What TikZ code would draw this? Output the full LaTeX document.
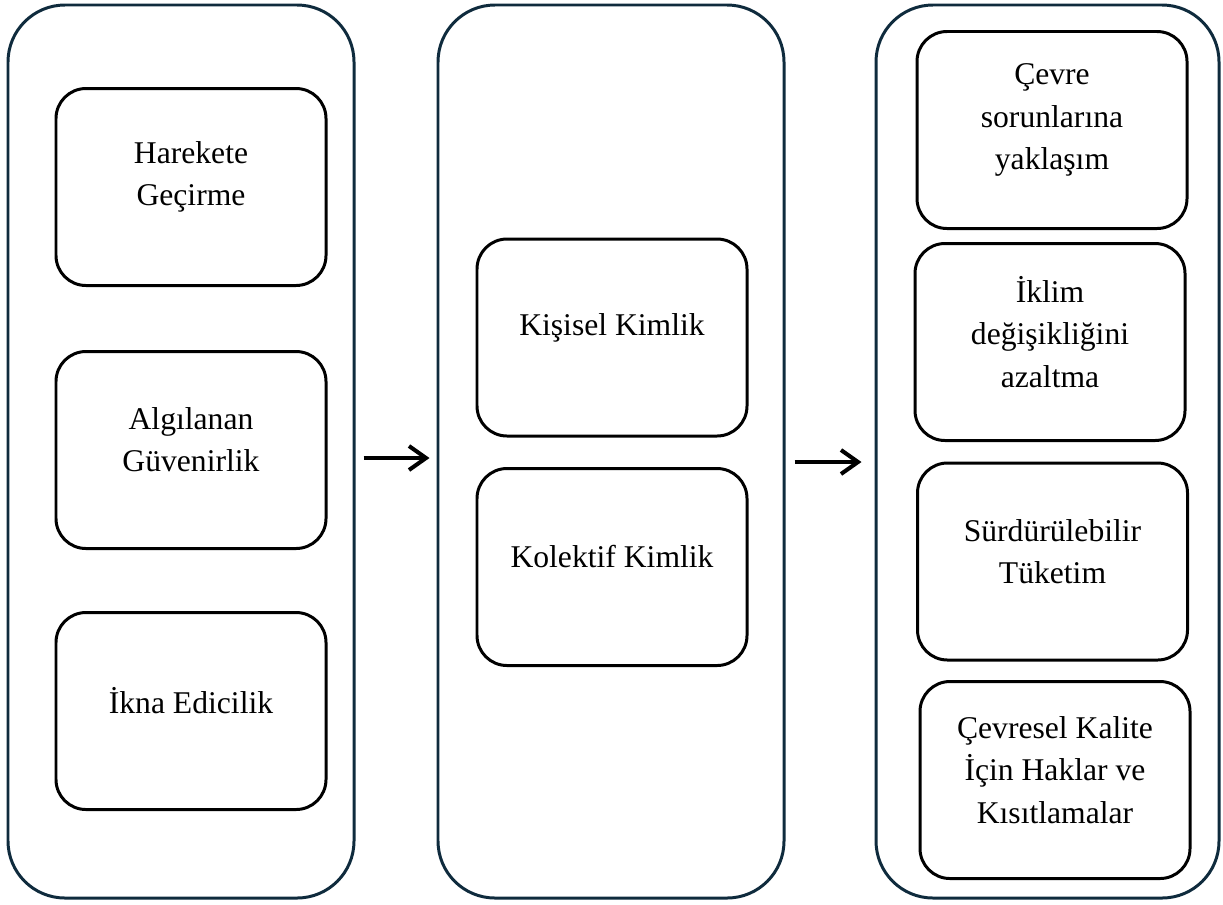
\documentclass[tikz,border=0pt]{standalone}
\usepackage{fontspec}
\setmainfont{Liberation Serif}
\usepackage{tikz}
\usepackage{xcolor}
\usetikzlibrary{arrows.meta}
\usetikzlibrary{shapes}

\definecolor{kenar}{HTML}{0F2B3D}

\tikzset{
  grup/.style={draw=kenar, line width=1.7pt, rounded corners=11.4mm,
    minimum width=69.2mm, minimum height=178.6mm, inner sep=0pt},
  kutu/.style={draw=black, line width=1.7pt, rounded corners=6mm,
    minimum width=54mm, minimum height=39.4mm, inner sep=0pt},
  yazi/.style={align=center, inner sep=0pt, font=\fontsize{18pt}{24pt}\selectfont},
  ok/.style={line width=2.3pt, -{Straight Barb[length=3.4mm,width=4.8mm]}}
}

\begin{document}
\begin{tikzpicture}[x=0.2mm, y=-0.2mm]
\useasboundingbox (0,0) rectangle (1223,904);

% dis kutular
\node[grup] (grup1) at (181,451.5) {};
\node[grup] (grup2) at (611,451.5) {};
\node[grup, minimum width=68.6mm] (grup3) at (1047.5,451.5) {};

% ilk grup
\node[kutu] (hareket) at (191,187) {};
\node[yazi] (hareket-y) at ([yshift=2mm]hareket.center) {Harekete\\Geçirme};
\node[kutu] (guven) at (191,450) {};
\node[yazi] (guven-y) at ([yshift=2mm]guven.center) {Algılanan\\Güvenirlik};
\node[kutu] (ikna) at (191,711) {};
\node[yazi] (ikna-y) at ([yshift=2mm]ikna.center) {İkna Edicilik};

% ikinci grup
\node[kutu] (kisisel) at (612,337.5) {};
\node[yazi] (kisisel-y) at ([yshift=2mm]kisisel.center) {Kişisel Kimlik};
\node[kutu] (kolektif) at (612,567) {};
\node[yazi] (kolektif-y) at ([yshift=2mm]kolektif.center) {Kolektif Kimlik};

% ucuncu grup
\node[kutu] (cevre) at (1052,130) {};
\node[yazi] (cevre-y) at ([yshift=2mm]cevre.center) {Çevre\\sorunlarına\\yaklaşım};
\node[kutu] (iklim) at (1050,342) {};
\node[yazi] (iklim-y) at ([yshift=2mm]iklim.center) {İklim\\değişikliğini\\azaltma};
\node[kutu] (tuketim) at (1052.5,561.5) {};
\node[yazi] (tuketim-y) at ([yshift=2mm]tuketim.center) {Sürdürülebilir\\Tüketim};
\node[kutu] (kalite) at (1055,780) {};
\node[yazi] (kalite-y) at ([yshift=2mm]kalite.center) {Çevresel Kalite\\İçin Haklar ve\\Kısıtlamalar};

% oklar
\draw[ok, shorten <=1.6mm, shorten >=1.4mm] ([yshift=-1.3mm]grup1.east) -- ([yshift=-1.3mm]grup2.west);
\draw[ok, shorten <=1.8mm, shorten >=2.6mm] ([yshift=-2.1mm]grup2.east) -- ([yshift=-2.1mm]grup3.west);
\end{tikzpicture}
\end{document}
